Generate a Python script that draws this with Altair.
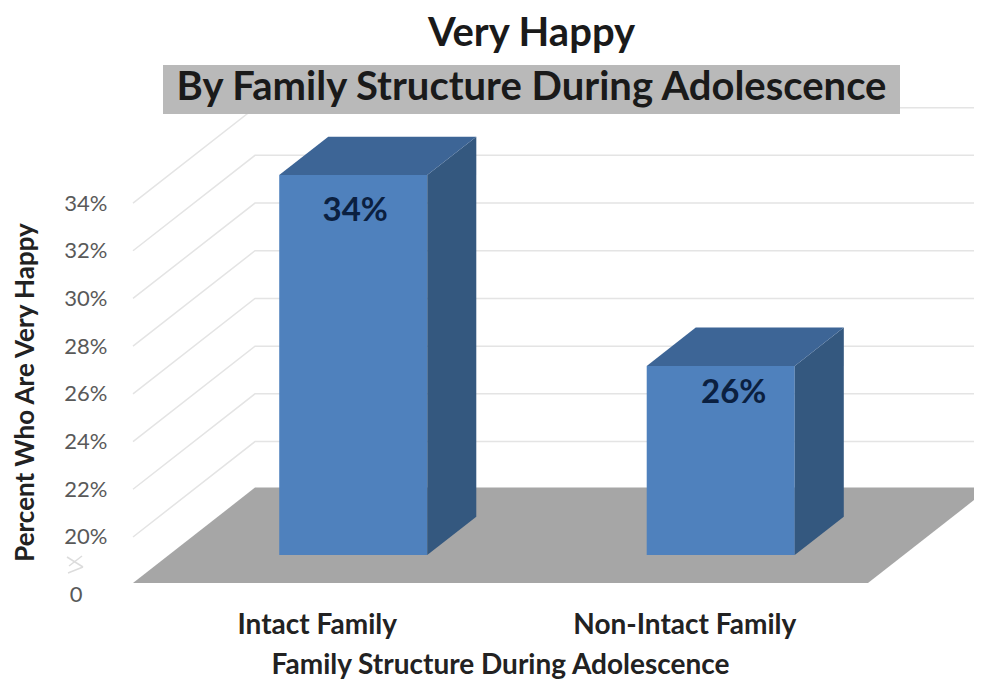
import altair as alt
import pandas as pd

CATEGORIES = ["Intact Family", "Non-Intact Family"]
CATEGORY_POS = [0.25, 0.75]
VALUES = [34, 26]
VALUE_LABELS = ["34%", "26%"]
Y_TICKS = [20, 22, 24, 26, 28, 30, 32, 34]
TITLE = ["Very Happy", "By Family Structure During Adolescence"]

FONT = "Lato"
BASE = 18.07
PLOT_W = 841
X_MAX = PLOT_W / 735
Y_MAX = 38.32
DX = 122 / 735      # full floor depth, x units
DY = 4.0            # full floor depth, percent units
D0, D1 = 0.293, 0.695
BAR_W = 0.2014

xs = alt.Scale(domain=[0, X_MAX], nice=False, zero=False)
ys = alt.Scale(domain=[BASE, Y_MAX], nice=False, zero=False)


def area_df(points):
    return pd.DataFrame(points, columns=["x", "y", "y2"])


def face(points, color, clip=False):
    return alt.Chart(area_df(points)).mark_area(color=color, opacity=1, clip=clip, interpolate="linear").encode(
        x=alt.X("x:Q", scale=xs, axis=None),
        y=alt.Y("y:Q", scale=ys, axis=None),
        y2="y2:Q",
    )


# gridlines on the side wall and the back wall
grid_rows = []
for v in Y_TICKS:
    grid_rows += [
        {"line": v, "x": 0, "y": v},
        {"line": v, "x": DX, "y": v + DY},
        {"line": v, "x": X_MAX, "y": v + DY},
    ]
grid = alt.Chart(pd.DataFrame(grid_rows)).mark_line(color="#e4e4e4", strokeWidth=1.5).encode(
    x=alt.X("x:Q", scale=xs, axis=None),
    y=alt.Y("y:Q", scale=ys, axis=None),
    detail="line:N",
)

# floor
floor = face(
    [
        (0, BASE, BASE),
        (DX, BASE + DY, BASE),
        (1, BASE + DY, BASE),
        (1 + DX, BASE + DY, BASE + DY),
    ],
    "#a6a6a6",
    clip=True,
)

# bars
layers = [grid, floor]
text_rows = []
LABEL_DX = [2, 13]
LABEL_DOWN = [36, 27]
for pos, val, lab, ldx, ldn in zip(CATEGORY_POS, VALUES, VALUE_LABELS, LABEL_DX, LABEL_DOWN):
    x0 = pos - BAR_W / 2 + D0 * DX + 0.001
    x1 = pos + BAR_W / 2 + D0 * DX + 0.001
    sx = (D1 - D0) * DX
    sy = (D1 - D0) * DY
    y0 = BASE + D0 * DY
    y1 = val + D0 * DY
    layers.append(face([(x0, y1, y0), (x1, y1, y0)], "#4f81bd"))
    layers.append(face([(x1, y1, y0), (x1 + sx, y1 + sy, y0 + sy)], "#34587f"))
    layers.append(face([(x0, y1, y1), (x0 + sx, y1 + sy, y1), (x1, y1 + sy, y1), (x1 + sx, y1 + sy, y1 + sy)], "#3d6596"))
    text_rows.append({"x": (x0 + x1) / 2, "y": y1, "t": lab, "dx": ldx, "dy": ldn})

for r in text_rows:
    layers.append(
        alt.Chart(pd.DataFrame([r])).mark_text(
            font=FONT, fontWeight="bold", fontSize=33, color="#0b2040", baseline="middle", dx=r["dx"], dy=r["dy"]
        ).encode(
            x=alt.X("x:Q", scale=xs, axis=None),
            y=alt.Y("y:Q", scale=ys, axis=None),
            text="t:N",
        )
    )

# title band
one = pd.DataFrame({"a": [0]})
band = alt.Chart(one).mark_rect(color="#b9b9b9").encode(
    x=alt.value(30), x2=alt.value(767), y=alt.value(-35), y2=alt.value(14)
)
layers.insert(2, band)

# the "0" under the axis break, and the break mark
zero = alt.Chart(pd.DataFrame({"y": [17.55], "t": ["0"]})).mark_text(
    font=FONT, fontSize=22, color="#595959", align="center", baseline="middle"
).encode(x=alt.value(-57), y=alt.Y("y:Q", scale=ys, axis=None), text="t:N")
layers.append(zero)
for x_a, y_a, x_b, y_b in [(-66, 457, -50, 467), (-50, 467, -65, 473), (-51, 456, -64, 466)]:
    layers.append(
        alt.Chart(one).mark_rule(color="#dcdcdc", strokeWidth=1.5).encode(
            x=alt.value(x_a), x2=alt.value(x_b), y=alt.value(y_a), y2=alt.value(y_b)
        )
    )

# real axes
label_expr = f"datum.value < 0.5 ? '{CATEGORIES[0]}' : '{CATEGORIES[1]}'"
axes = alt.Chart(pd.DataFrame({"x": CATEGORY_POS, "y": [Y_TICKS[0], Y_TICKS[-1]]})).mark_point(opacity=0).encode(
    x=alt.X(
        "x:Q",
        scale=xs,
        axis=alt.Axis(
            values=CATEGORY_POS,
            labelExpr=label_expr,
            title="Family Structure During Adolescence",
            titleFont=FONT,
            titleFontSize=28,
            titleFontWeight="bold",
            titleColor="#222222",
            titleLimit=700,
            labelFont=FONT,
            labelFontSize=28,
            labelFontWeight="bold",
            labelColor="#222222",
            labelLimit=400,
            labelPadding=28,
            labelFlush=False,
            labelOverlap=False,
            titleY=82,
            titleX=367,
            titleBaseline="middle",
            domain=False,
            ticks=False,
            grid=False,
        ),
    ),
    y=alt.Y(
        "y:Q",
        scale=ys,
        axis=alt.Axis(
            values=Y_TICKS,
            labelExpr="datum.value + '%'",
            title="Percent Who Are Very Happy",
            titleFont=FONT,
            titleFontSize=26,
            titleFontWeight="bold",
            titleColor="#222222",
            titleLimit=600,
            titleX=-108,
            titleY=292,
            titleBaseline="middle",
            labelFont=FONT,
            labelFontSize=22,
            labelColor="#595959",
            labelPadding=26,
            domain=False,
            ticks=False,
            grid=False,
        ),
    ),
)
layers.append(axes)

chart = (
    alt.layer(*layers)
    .resolve_scale(x="shared", y="shared")
    .resolve_axis(x="independent", y="independent")
    .properties(
        width=PLOT_W,
        height=483,
        autosize=alt.AutoSizeParams(type="none"),
        padding={"left": 125, "top": 92, "right": 0, "bottom": 97},
        background="white",
        title=alt.TitleParams(
            text=TITLE,
            font=FONT,
            fontSize=40,
            fontWeight="bold",
            color="#1a1a1a",
            lineHeight=54,
            anchor="middle",
            dx=-22,
            dy=57,
            offset=14,
        ),
    )
    .configure_view(stroke=None)
)

chart.save("out.html", embed_options={"renderer": "svg", "actions": False})
